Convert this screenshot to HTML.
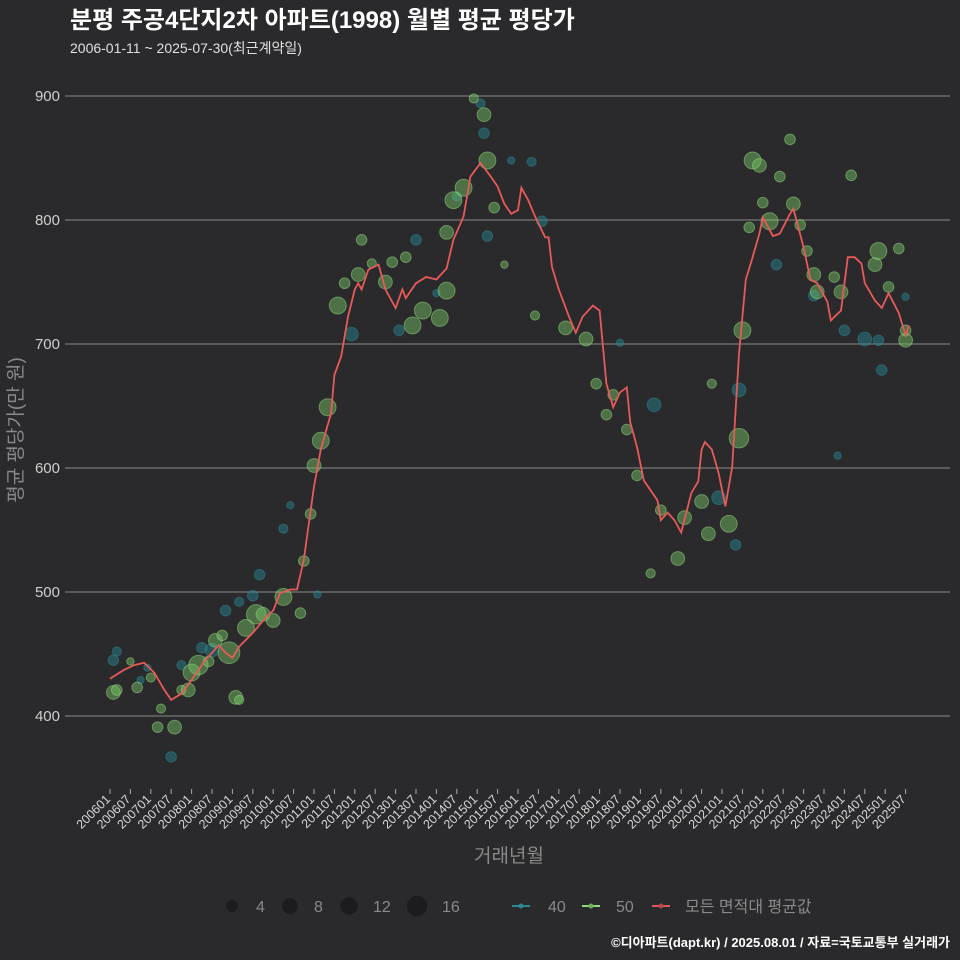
<!DOCTYPE html>
<html><head><meta charset="utf-8">
<style>
body{margin:0;background:#2a292b;width:960px;height:960px;overflow:hidden;font-family:"Liberation Sans","Noto Sans CJK KR",sans-serif}
</style></head>
<body>
<svg id="chart" width="960" height="960" xmlns="http://www.w3.org/2000/svg" style="display:block">
<rect width="960" height="960" fill="#2a292b"/>
<text x="70" y="28" fill="#ffffff" font-size="24" font-weight="bold" font-family="Liberation Sans, Noto Sans CJK KR, sans-serif">분평 주공4단지2차 아파트(1998) 월별 평균 평당가</text>
<text x="70" y="53" fill="#e0e0e0" font-size="14" font-family="Liberation Sans, Noto Sans CJK KR, sans-serif">2006-01-11 ~ 2025-07-30(최근계약일)</text>
<g id="grid"></g>
<g id="bubbles"></g>
<g id="line"></g>
<g id="xaxis"></g>
<text x="0" y="0" transform="translate(22,430) rotate(-90)" text-anchor="middle" fill="#8a8a8a" font-size="19" font-family="Liberation Sans, Noto Sans CJK KR, sans-serif">평균 평당가(만 원)</text>
<text x="509" y="862" text-anchor="middle" fill="#8a8a8a" font-size="19" font-family="Liberation Sans, Noto Sans CJK KR, sans-serif">거래년월</text>
<g id="legend" font-family="Liberation Sans, Noto Sans CJK KR, sans-serif" font-size="16" fill="#8a8a8a">
  <g><circle cx="232" cy="906" r="5.9" fill="#1c1b1d"/><text x="256" y="912">4</text></g>
  <g><circle cx="290" cy="906" r="7.7" fill="#1c1b1d"/><text x="314" y="912">8</text></g>
  <g><circle cx="349" cy="906" r="8.7" fill="#1c1b1d"/><text x="373" y="912">12</text></g>
  <g><circle cx="417" cy="906" r="10.3" fill="#1c1b1d"/><text x="442" y="912">16</text></g>
  <g><line x1="512" y1="906" x2="530" y2="906" stroke="#2a8a94" stroke-width="2"/><circle cx="521" cy="906" r="2.5" fill="#2a8a94"/><text x="548" y="912">40</text></g>
  <g><line x1="582" y1="906" x2="600" y2="906" stroke="#8fdc7a" stroke-width="2"/><circle cx="591" cy="906" r="2.5" fill="#6fae5e"/><text x="616" y="912">50</text></g>
  <g><line x1="652" y1="906" x2="670" y2="906" stroke="#e05555" stroke-width="2"/><circle cx="661" cy="906" r="2.5" fill="#b84848"/><text x="685" y="912">모든 면적대 평균값</text></g>
</g>
<text x="950" y="947" text-anchor="end" fill="#ffffff" font-size="13" font-weight="bold" font-family="Liberation Sans, Noto Sans CJK KR, sans-serif">©디아파트(dapt.kr) / 2025.08.01 / 자료=국토교통부 실거래가</text>
</svg>
<script>
const yTicks=[400,500,600,700,800,900];
const avgMonths=[0,4,7,10,13,16,18,21,24,28,32,34,36,38,42,46,48,50,53,55,57,60,62,65,66,68,70,72,73,74,76,79,81,84,86,87,90,93,96,99,101,104,106,109,112,114,116,118,120,121,123,125,128,129,130,132,135,137,139,142,144,146,148,150,152,153,155,157,161,162,164,166,168,171,173,174,175,177,179,181,183,185,187,189,191,192,195,197,200,201,204,206,208,211,212,215,217,219,221,222,225,227,229,232,234,235];
const avgValues=[430,437,441,443,435,421,413,418,429,445,457,451,447,456,467,480,485,499,502,502,526,585,615,644,675,690,722,744,749,744,760,764,744,729,744,737,749,754,752,761,784,803,835,846,835,827,813,805,808,826,816,803,786,786,762,744,722,709,722,731,727,668,649,661,665,637,617,590,574,558,564,558,548,580,589,615,621,615,596,569,601,692,752,770,789,802,787,789,805,809,778,752,749,734,719,727,770,770,765,749,735,729,741,725,707,715];
// area-50 bubbles
const g50Months=[1,2,6,8,12,15,14,19,21,23,24,26,29,31,33,35,37,38,40,43,45,48,51,56,57,59,60,62,64,67,69,73,74,77,81,83,89,87,92,97,99,99,101,104,107,110,111,113,116,125,134,140,143,146,148,152,155,159,162,167,169,174,176,177,182,185,186,188,189,191,192,194,197,200,203,205,207,208,213,215,218,225,226,229,232,234,234,201];
const g50Values=[419,421,444,423,431,406,391,391,421,421,435,441,444,461,465,451,415,413,471,482,482,477,496,483,525,563,602,622,649,731,749,756,784,765,750,766,715,770,727,721,743,790,816,826,898,885,848,810,764,723,713,704,668,643,659,631,594,515,566,527,560,573,547,668,555,624,711,794,848,844,814,799,835,865,796,775,756,742,754,742,836,764,775,746,777,703,711,813];
const g50Counts=[6,3,1,3,2,2,3,6,2,6,10,14,3,6,3,18,6,2,10,14,6,6,10,3,3,3,6,10,10,10,3,6,3,2,6,3,10,3,10,10,10,6,10,10,2,6,10,3,1,2,6,6,3,3,3,3,3,2,3,6,6,6,6,2,10,14,10,3,10,6,3,10,3,3,3,3,6,6,3,6,3,6,10,3,3,6,3,6];
// area-40 bubbles
const g40Months=[1,2,9,11,18,21,27,30,34,38,42,44,51,53,61,71,85,90,96,102,109,110,111,118,124,127,150,160,179,185,184,196,207,216,222,226,214,227,234];
const g40Values=[445,452,429,439,367,441,455,453,485,492,497,514,551,570,498,708,711,784,741,819,894,870,787,848,847,799,701,651,576,663,538,764,739,711,704,703,610,679,738];
const g40Counts=[3,2,1,1,3,2,3,6,3,2,3,3,2,1,1,6,3,3,1,2,2,3,3,1,2,3,1,6,6,6,3,3,3,3,6,3,1,3,1];

const NS='http://www.w3.org/2000/svg';
const X0=110, PER_MONTH=3.4;
function xScale(m){return X0+m*PER_MONTH;}
function yScale(v){return 716-(v-400)*1.24;}
function rScale(n){return 1.5+2.2*Math.sqrt(n);}

const grid=document.getElementById('grid');
yTicks.forEach(t=>{
  const l=document.createElementNS(NS,'line');
  
  
  l.setAttribute('x1',65);l.setAttribute('x2',950);
  l.setAttribute('y1',yScale(t));l.setAttribute('y2',yScale(t));
  l.setAttribute('stroke','#8a8a8a');l.setAttribute('stroke-width','1');
  grid.appendChild(l);
  const tx=document.createElementNS(NS,'text');
  
  
  tx.setAttribute('x',60);tx.setAttribute('y',yScale(t)+5);
  tx.setAttribute('text-anchor','end');tx.setAttribute('fill','#cfcfcf');
  tx.setAttribute('font-size','15');
  tx.textContent=t;
  grid.appendChild(tx);
});

const bg=document.getElementById('bubbles');
function drawBubbles(ms,vs,ns,area,fill,stroke){
  for(let i=0;i<ms.length;i++){
    const c=document.createElementNS(NS,'circle');
    
    
    c.setAttribute('cx',xScale(ms[i]));
    c.setAttribute('cy',yScale(vs[i]));
    c.setAttribute('r',rScale(ns[i]));
    c.setAttribute('fill',fill);c.setAttribute('stroke',stroke);
    c.setAttribute('stroke-width','1');
    bg.appendChild(c);
  }
}
drawBubbles(g40Months,g40Values,g40Counts,40,'rgba(35,130,140,0.5)','rgba(50,150,160,0.4)');
drawBubbles(g50Months,g50Values,g50Counts,50,'rgba(120,200,105,0.45)','rgba(150,220,130,0.5)');

const lg=document.getElementById('line');
const p=document.createElementNS(NS,'path');


p.setAttribute('d',avgMonths.map((m,i)=>(i?'L':'M')+xScale(m).toFixed(1)+','+yScale(avgValues[i]).toFixed(1)).join(''));
p.setAttribute('fill','none');p.setAttribute('stroke','#e85a5a');p.setAttribute('stroke-width','1.8');
lg.appendChild(p);

const xa=document.getElementById('xaxis');
for(let k=0;k<=39;k++){
  const yr=2006+Math.floor(k/2), mo=k%2?'07':'01';
  const x=xScale(k*6);
  const t=document.createElementNS(NS,'line');
  
  
  t.setAttribute('x1',x);t.setAttribute('x2',x);t.setAttribute('y1',789);t.setAttribute('y2',794);
  t.setAttribute('stroke','#aaaaaa');
  xa.appendChild(t);
  const tx=document.createElementNS(NS,'text');
  
  
  tx.setAttribute('transform','translate('+(x+1)+',800) rotate(-45)');
  tx.setAttribute('text-anchor','end');tx.setAttribute('fill','#d8d8d8');
  tx.setAttribute('font-size','12.5');
  tx.textContent=''+yr+mo;
  xa.appendChild(tx);
}
</script>
</body></html>
